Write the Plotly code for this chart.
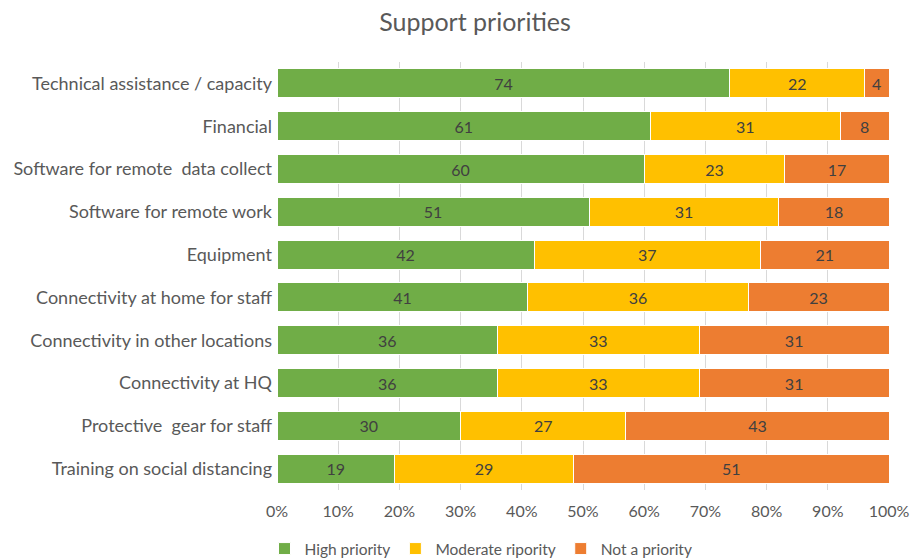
import plotly.graph_objects as go

categories = [
    "Technical assistance / capacity",
    "Financial",
    "Software for remote  data collect",
    "Software for remote work",
    "Equipment",
    "Connectivity at home for staff",
    "Connectivity in other locations",
    "Connectivity at HQ",
    "Protective  gear for staff",
    "Training on social distancing",
]
high = [74, 61, 60, 51, 42, 41, 36, 36, 30, 19]
moderate = [22, 31, 23, 31, 37, 36, 33, 33, 27, 29]
not_priority = [4, 8, 17, 18, 21, 23, 31, 31, 43, 51]
series_names = ["High priority", "Moderate ripority", "Not a priority"]
colors = ["#70AD47", "#FFC000", "#ED7D31"]
x_ticks = list(range(0, 101, 10))

FONT = "Lato, 'Open Sans', sans-serif"
L, R, T, B = 277, 21, 62, 68
PH = 558 - T - B
PW = 910 - L - R

fig = go.Figure()
for name, vals, col in zip(series_names, [high, moderate, not_priority], colors):
    fig.add_trace(go.Bar(
        y=categories, x=vals, name=name, orientation="h",
        marker=dict(color=col, line=dict(color="white", width=1)),
        text=[str(v) for v in vals], textposition="inside",
        insidetextanchor="middle", textangle=0, constraintext="none",
        textfont=dict(family=FONT, size=16, color="#404040"),
    ))

fig.update_layout(
    barmode="stack", barnorm="percent", bargap=0.32,
    width=910, height=558,
    margin=dict(l=L, r=R, t=T, b=B, autoexpand=False),
    paper_bgcolor="white", plot_bgcolor="white",
    font=dict(family=FONT, color="#595959", size=16),
    title=dict(text="Support priorities", x=475/910, xanchor="center",
               y=1 - 22/558, yanchor="middle", yref="container",
               font=dict(size=25, color="#595959", family=FONT)),
    legend=dict(orientation="h",
                x=(481 - L)/PW, xanchor="center",
                y=-(549 - (T + PH))/PH, yanchor="middle",
                font=dict(size=15.5, color="#595959"), traceorder="normal",
                itemwidth=30),
    showlegend=True,
)
fig.update_xaxes(range=[0, 100], tickvals=x_ticks,
                 ticktext=[f"{t}%" for t in x_ticks],
                 showgrid=True, gridcolor="#D9D9D9", gridwidth=1,
                 zeroline=False, showline=False, ticks="",
                 ticklabelstandoff=10, tickfont=dict(size=16, color="#595959"),
                 automargin=False)
fig.update_yaxes(autorange="reversed", showgrid=False, ticks="",
                 ticklabelstandoff=4, tickfont=dict(size=18, color="#595959"),
                 automargin=False)

fig.write_html("out.html", config={"displayModeBar": False},
               post_script="document.body.style.margin='0';")
